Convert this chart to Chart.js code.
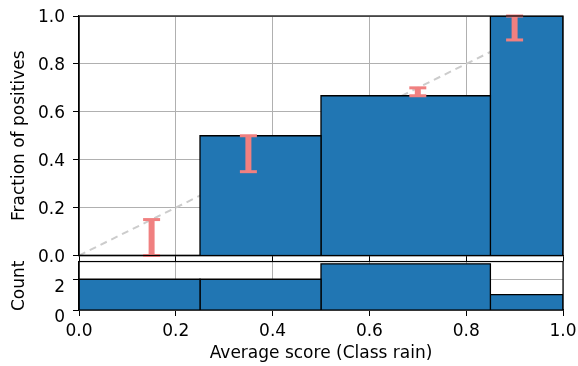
<!DOCTYPE html>
<html>
<head>
<meta charset="utf-8">
<script src="https://cdn.jsdelivr.net/npm/chart.js@4.4.1/dist/chart.umd.min.js"></script>
<style>
  html, body { margin: 0; padding: 0; background: #fff; overflow: hidden; }
  #wrap { position: relative; width: 578px; height: 366px; overflow: hidden; }
  canvas { position: absolute; left: 0; }
</style>
</head>
<body>
<div id="wrap">
  <canvas id="calibChart" width="582" height="267" style="top:0"></canvas>
  <canvas id="countChart" width="582" height="115" style="top:251px"></canvas>
</div>
<script>
// Reliability diagram — class "rain"

// ── Data ──────────────────────────────────────────────────
const binEdges = [0, 0.25, 0.5, 0.85, 1.0];
const fractionPositives = [0, 0.5, 0.667, 1.0];
const binCounts = [2, 2, 3, 1];

const errX = [0.15, 0.35, 0.70, 0.90];
const errLow = [0, 0.35, 0.667, 0.90];
const errHigh = [0.15, 0.50, 0.70, 1.0];

const diagonal = [0, 1];
const xTicks = [0, 0.2, 0.4, 0.6, 0.8, 1.0];
const fracTicks = [0, 0.2, 0.4, 0.6, 0.8, 1.0];
const countTicks = [0, 2];

// ── Style ─────────────────────────────────────────────────
const COLORS = {
  bar: '#2176b3',
  edge: '#000000',
  err: '#f08080',
  diag: '#cccccc',
  grid: '#b0b0b0',
  text: '#000000',
};
const FONT = { family: '"DejaVu Sans", sans-serif', size: 17 };
const AXIS_LEFT = 79;

Chart.defaults.color = COLORS.text;
Chart.defaults.font = FONT;

// box around each plot area, like matplotlib spines
const spines = {
  id: 'spines',
  afterDraw(chart) {
    const { ctx, chartArea: a } = chart;
    ctx.save();
    ctx.strokeStyle = '#000';
    ctx.lineWidth = 1.2;
    ctx.strokeRect(a.left, a.top, a.right - a.left, a.bottom - a.top);
    ctx.restore();
  },
};

// one closed step outline per bin
function binDatasets(values) {
  return values.map((v, i) => ({
    data: [
      { x: binEdges[i], y: 0 },
      { x: binEdges[i], y: v },
      { x: binEdges[i + 1], y: v },
      { x: binEdges[i + 1], y: 0 },
    ],
    showLine: true,
    fill: 'origin',
    backgroundColor: COLORS.bar,
    borderColor: COLORS.edge,
    borderWidth: 1.3,
    pointRadius: 0,
    tension: 0,
    order: 1,
  }));
}

const errDatasets = errX.map((x, i) => ({
  data: [{ x, y: errLow[i] }, { x, y: errHigh[i] }],
  showLine: true,
  borderColor: COLORS.err,
  borderWidth: 6,
  pointStyle: 'line',
  pointRadius: 8.5,
  pointBorderWidth: 3,
  pointBorderColor: COLORS.err,
  pointBackgroundColor: COLORS.err,
  clip: false,
  order: 0,
}));

const diagDataset = {
  data: diagonal.map(v => ({ x: v, y: v })),
  showLine: true,
  borderColor: COLORS.diag,
  borderWidth: 2,
  borderDash: [7, 5],
  pointRadius: 0,
  order: 2,
};

function xScale(showLabels) {
  return {
    type: 'linear',
    min: 0,
    max: 1,
    afterBuildTicks: s => { s.ticks = xTicks.map(value => ({ value })); },
    afterFit: s => { s.height = showLabels ? 56 : 6; },
    ticks: {
      display: showLabels,
      padding: 5,
      callback: v => v.toFixed(1),
    },
    grid: { color: COLORS.grid, lineWidth: 1, tickLength: 6, tickColor: '#000' },
    border: { color: '#000', width: 1.2 },
    title: {
      display: showLabels,
      text: 'Average score (Class rain)',
      padding: { top: 4, bottom: 2 },
    },
  };
}

function yScale(max, ticks, title, fmt, labelOffset) {
  return {
    type: 'linear',
    min: 0,
    max,
    afterBuildTicks: s => { s.ticks = ticks.map(value => ({ value })); },
    afterFit: s => { s.width = AXIS_LEFT; },
    // small lineHeight keeps label overhang from shrinking the plot area
    ticks: { padding: 8, labelOffset, callback: fmt, font: { lineHeight: 0.3 } },
    grid: { color: COLORS.grid, lineWidth: 1, tickLength: 6, tickColor: '#000' },
    border: { color: '#000', width: 1.2 },
    title: { display: true, text: title, padding: { top: 9, bottom: 0 } },
  };
}

const commonOptions = {
  responsive: false,
  animation: false,
  plugins: { legend: { display: false }, tooltip: { enabled: false } },
};

// ── Calibration panel ─────────────────────────────────────
new Chart(document.getElementById('calibChart'), {
  type: 'scatter',
  data: { datasets: [...errDatasets, ...binDatasets(fractionPositives), diagDataset] },
  options: {
    ...commonOptions,
    layout: { padding: { top: 16, right: 19, bottom: 0, left: 0 } },
    scales: {
      x: xScale(false),
      y: yScale(1, fracTicks, 'Fraction of positives', v => v.toFixed(1), 2),
    },
  },
  plugins: [spines],
});

// ── Count panel ───────────────────────────────────────────
new Chart(document.getElementById('countChart'), {
  type: 'scatter',
  data: { datasets: binDatasets(binCounts) },
  options: {
    ...commonOptions,
    layout: { padding: { top: 4, right: 19, bottom: 0, left: 0 } },
    scales: {
      x: xScale(true),
      y: yScale(3.15, countTicks, 'Count', v => String(v), 8),
    },
  },
  plugins: [spines],
});
</script>
</body>
</html>
